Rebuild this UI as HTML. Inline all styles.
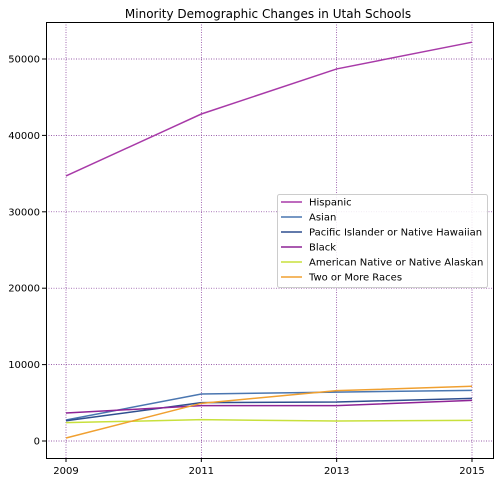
<!DOCTYPE html>
<html><head><meta charset="utf-8"><style>
body{margin:0;background:#fff;font-family:"Liberation Sans","DejaVu Sans",sans-serif;}
svg text{font-family:"DejaVu Sans","Liberation Sans",sans-serif;}
</style></head><body>
<svg id="c" width="499" height="482">
<rect width="499" height="482" fill="#fff"/>
<text x="268" y="18" text-anchor="middle" font-size="12">Minority Demographic Changes in Utah Schools</text>
<g id="grid"></g><g id="lines"></g>
<rect x="46.5" y="22.5" width="447" height="436" fill="none" stroke="#000" stroke-width="1"/>
<g id="ticks"></g>
<g id="legend"></g>
</svg>
<script>
const years=[2009,2011,2013,2015];
const yTicks=[0,10000,20000,30000,40000,50000];
const seriesNames=["Hispanic","Asian","Pacific Islander or Native Hawaiian","Black","American Native or Native Alaskan","Two or More Races"];
const hispanic=[34690,42800,48700,52200];
const asian=[2750,6150,6400,6630];
const pacific=[2650,5020,5100,5580];
const black=[3660,4630,4630,5320];
const amNative=[2400,2790,2620,2700];
const twoOrMore=[390,4930,6590,7160];
const colors=["#a83aa8","#4a76b0","#2f4f8f","#8e2496","#c8e03c","#f0a030"];
const allSeries=[hispanic,asian,pacific,black,amNative,twoOrMore];
const NS="http://www.w3.org/2000/svg";
function X(y){return 66+(y-2009)/6*406;}
function Y(v){return 441-v/10000*76.4;}
function mk(t,a,p){const e=document.createElementNS(NS,t);for(const k in a)e.setAttribute(k,a[k]);p.appendChild(e);return e;}
const grid=document.getElementById('grid'),ticks=document.getElementById('ticks'),lines=document.getElementById('lines'),leg=document.getElementById('legend');
years.forEach(y=>{
 const g=mk('line',{x1:X(y),x2:X(y),y1:22,y2:458,stroke:'#7a2a90','stroke-width':0.7,'stroke-dasharray':'1,1.5'},grid);
 
 
 mk('line',{x1:X(y),x2:X(y),y1:458,y2:462,stroke:'#000'},ticks);
 const t=mk('text',{x:X(y),y:474,'text-anchor':'middle','font-size':10},ticks);t.textContent=y;
 
 
});
yTicks.forEach(v=>{
 const g=mk('line',{x1:46,x2:493,y1:Y(v),y2:Y(v),stroke:'#7a2a90','stroke-width':0.7,'stroke-dasharray':'1,1.5'},grid);
 
 
 mk('line',{x1:42,x2:46,y1:Y(v),y2:Y(v),stroke:'#000'},ticks);
 const t=mk('text',{x:40,y:Y(v)+3.5,'text-anchor':'end','font-size':10},ticks);t.textContent=v;
 
 
});
allSeries.forEach((s,i)=>{
 const p=mk('polyline',{points:s.map((v,j)=>X(years[j])+','+Y(v)).join(' '),fill:'none',stroke:colors[i],'stroke-width':1.5},lines);
 
 
});
const lb=mk('rect',{x:277.5,y:194.5,width:210,height:93,rx:2,fill:'#fff','fill-opacity':0.85,stroke:'#ccc'},leg);


seriesNames.forEach((n,i)=>{
 const yy=202+i*15;
 mk('line',{x1:281,x2:302,y1:yy,y2:yy,stroke:colors[i],'stroke-width':1.5},leg);
 const t=mk('text',{x:309,y:yy+3.5,'font-size':10},leg);t.textContent=n;
 
 
});
</script>
</body></html>
